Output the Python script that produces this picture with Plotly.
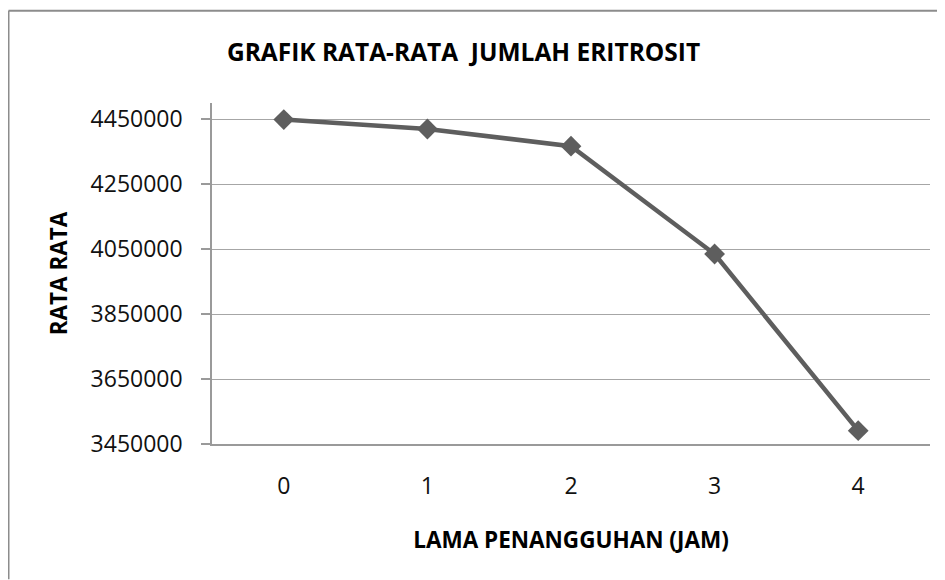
import plotly.graph_objects as go

categories = ["0", "1", "2", "3", "4"]
rata_rata = [4449000, 4420000, 4367000, 4035000, 3491000]
y_ticks = [3450000, 3650000, 3850000, 4050000, 4250000, 4450000]
y_tick_labels = [str(v) for v in y_ticks]

title_text = "GRAFIK RATA-RATA  JUMLAH ERITROSIT"
x_title = "LAMA PENANGGUHAN (JAM)"
y_title = "RATA RATA"

FONT = "Open Sans"
OFF = 8  # browser default body margin
W, H = 945 - OFF, 580 - OFF
ML, MT = 212 - OFF, 103 - OFF
MR = W - (930 - OFF)
MB = H - (444.5 - OFF)
PW, PH = W - ML - MR, H - MT - MB

fig = go.Figure()
fig.add_trace(go.Scatter(
    x=categories, y=rata_rata, mode="lines+markers",
    line=dict(color="#5e5e5e", width=4.5),
    marker=dict(symbol="diamond", size=16, color="#5e5e5e"),
    showlegend=False, hoverinfo="x+y",
))

fig.update_layout(
    width=W, height=H,
    paper_bgcolor="white", plot_bgcolor="white",
    margin=dict(l=ML, r=MR, t=MT, b=MB),
    font=dict(family=FONT, color="#000000"),
    title=dict(text=f"<b>{title_text}</b>", font=dict(size=24.5, family=FONT, color="#000"),
               x=(463.5 - OFF) / W, xref="container", xanchor="center",
               y=1 - (52.5 - OFF) / H, yref="container", yanchor="middle"),
    xaxis=dict(
        type="category", range=[-0.5, 4.5],
        showline=True, linecolor="#9a9a9a", linewidth=1.5,
        showgrid=False, ticks="", zeroline=False,
        tickfont=dict(size=23, family=FONT, color="#111"),
        ticklabelstandoff=21,
        title=dict(text=f"<b>{x_title}</b>", font=dict(size=22.5, family=FONT, color="#000"), standoff=32),
    ),
    yaxis=dict(
        range=[3450000, 4500000],
        tickvals=y_ticks, ticktext=y_tick_labels,
        showline=True, linecolor="#9a9a9a", linewidth=1.5,
        showgrid=True, gridcolor="#a6a6a6", gridwidth=1.3,
        ticks="outside", ticklen=9, tickcolor="#9a9a9a", tickwidth=1.5,
        zeroline=False,
        tickfont=dict(size=23, family=FONT, color="#111"),
        ticklabelstandoff=14,
        title=dict(text=f"<b>{y_title}</b>", font=dict(size=22.5, family=FONT, color="#000"), standoff=17),
    ),
)

# outer chart border (top and left visible; right and bottom cropped)
top_y = 1 + (MT - (10.5 - OFF)) / PH
left_x = ((8.5 - OFF) - ML) / PW
fig.add_shape(type="line", xref="paper", yref="paper",
              x0=left_x, x1=(W - ML) / PW, y0=top_y, y1=top_y,
              line=dict(color="#8c8c8c", width=2))
fig.add_shape(type="line", xref="paper", yref="paper",
              x0=left_x, x1=left_x, y0=top_y, y1=-MB / PH,
              line=dict(color="#8c8c8c", width=2))

fig.write_html("out.html")
